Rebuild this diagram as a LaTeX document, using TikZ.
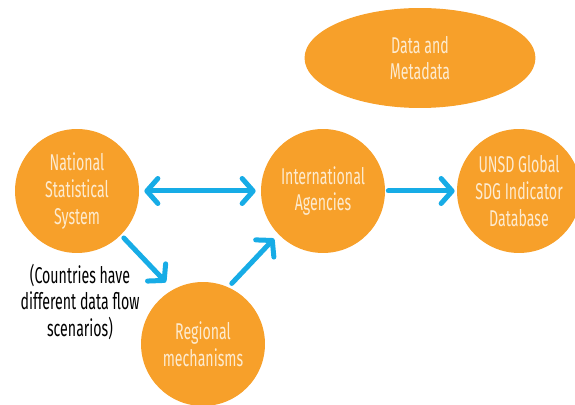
\documentclass[tikz,border=0pt]{standalone}
\usepackage{fontspec}
\setmainfont{Fira Sans}[FakeStretch=0.62]
\usetikzlibrary{arrows.meta, shapes.geometric}
\definecolor{blob}{HTML}{F7A02A}
\definecolor{flow}{HTML}{17ACE6}
\definecolor{cream}{HTML}{FDEBD0}
\begin{document}
\begin{tikzpicture}[x=0.02cm, y=-0.02cm,
	barb/.tip = {Straight Barb[length=0.22cm, width=0.5cm, round]},
	main/.style = {circle, fill=blob, minimum size=2.48cm, inner sep=0pt, text=cream, align=center, font=\fontsize{13}{15.2}\selectfont},
	link/.style = {draw=flow, line width=0.1cm, line cap=round, -barb}]
	\useasboundingbox (0,0) rectangle (575,405);
	\node[main] (nss) at (77,191) {National\\Statistical\\System};
	\node[main] (ia) at (323,191) {International\\Agencies};
	\node[main] (unsd) at (519,191) {UNSD Global\\SDG Indicator\\Database};
	\node[main] (reg) at (203,344) {Regional\\mechanisms};
	\node[ellipse, fill=blob, minimum width=4.62cm, minimum height=2cm, text=cream, align=center, font=\fontsize{13}{15.2}\selectfont] (meta) at (420,58) {Data and\\Metadata};
	\node[align=center, font=\fontsize{13}{15.2}\selectfont] (note) at (80,302) {(Countries have\\different data flow\\scenarios)};
	% flows
	\draw[link, barb-barb, shorten <=0.1cm, shorten >=0.1cm] (nss) -- (ia);
	\draw[link, shorten <=0.06cm, shorten >=0.04cm] (ia) -- (unsd);
	\draw[link, shorten <=0.08cm, shorten >=0.2cm] (nss.-45) -- (reg.119);
	\draw[link, shorten <=0.1cm, shorten >=0.12cm] (reg.66) -- (ia.-136);
\end{tikzpicture}
\end{document}
